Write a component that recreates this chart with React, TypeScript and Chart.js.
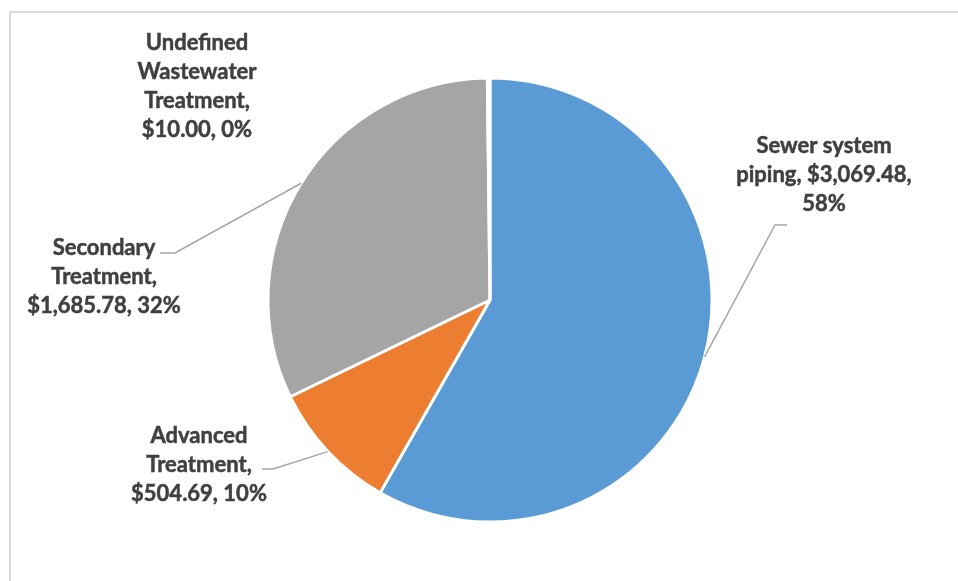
import React, { useEffect, useRef } from "react";
import { Chart, registerables } from "chart.js";

Chart.register(...registerables);

const categories = [
  "Sewer system piping",
  "Advanced Treatment",
  "Secondary Treatment",
  "Undefined Wastewater Treatment",
];
const values = [3069.48, 504.69, 1685.78, 10.0];
const colors = ["#5B9BD5", "#ED7D31", "#A5A5A5", "#FFC000"];
const labelLines = [
  ["Sewer system", "piping, $3,069.48,", "58%"],
  ["Advanced", "Treatment,", "$504.69, 10%"],
  ["Secondary", "Treatment,", "$1,685.78, 32%"],
  ["Undefined", "Wastewater", "Treatment,", "$10.00, 0%"],
];

// layout (pixels): label block centre, leader elbow and leader end
const labelCenters = [
  [824, 175],
  [199, 465],
  [104, 277],
  [197, 86],
];
const leaderElbows: (number[] | null)[] = [[775, 225], [273, 469], [175, 253], null];
const leaderEnds: (number[] | null)[] = [[787, 225], [262, 469], [160, 253], null];

const FONT = "bold 22px Lato";
const LINE_H = 29;

const labelPlugin = {
  id: "excelLabels",
  beforeDraw(chart: any) {
    const ctx = chart.ctx;
    ctx.save();
    ctx.fillStyle = "#ffffff";
    ctx.fillRect(0, 0, chart.width, chart.height);
    ctx.strokeStyle = "#D9D9D9";
    ctx.lineWidth = 2;
    ctx.strokeRect(10, 12, chart.width + 50, chart.height + 50);
    ctx.restore();
  },
  afterDraw(chart: any) {
    const ctx = chart.ctx;
    const meta = chart.getDatasetMeta(0);
    ctx.save();
    meta.data.forEach((arc: any, i: number) => {
      const elbow = leaderElbows[i];
      const end = leaderEnds[i];
      if (elbow && end) {
        const mid = (arc.startAngle + arc.endAngle) / 2;
        const sx = arc.x + Math.cos(mid) * arc.outerRadius;
        const sy = arc.y + Math.sin(mid) * arc.outerRadius;
        ctx.strokeStyle = "#A6A6A6";
        ctx.lineWidth = 1.5;
        ctx.beginPath();
        ctx.moveTo(sx, sy);
        ctx.lineTo(elbow[0], elbow[1]);
        ctx.lineTo(end[0], end[1]);
        ctx.stroke();
      }
      const lines = labelLines[i];
      const [cx, cy] = labelCenters[i];
      ctx.font = FONT;
      ctx.fillStyle = "#404040";
      ctx.strokeStyle = "#404040";
      ctx.lineWidth = 0.5;
      ctx.textAlign = "center";
      ctx.textBaseline = "middle";
      const top = cy - ((lines.length - 1) * LINE_H) / 2;
      lines.forEach((t, k) => {
        ctx.fillText(t, cx, top + k * LINE_H);
        ctx.strokeText(t, cx, top + k * LINE_H);
      });
    });
    ctx.restore();
  },
};

export default function App() {
  const ref = useRef<HTMLCanvasElement | null>(null);
  useEffect(() => {
    if (!ref.current) return;
    const chart = new Chart(ref.current, {
      type: "pie",
      data: {
        labels: categories,
        datasets: [
          {
            data: values,
            backgroundColor: colors,
            borderColor: "#ffffff",
            borderWidth: 3,
          },
        ],
      },
      options: {
        responsive: false,
        animation: false,
        layout: { padding: { left: 266.5, right: 244.5, top: 76.5, bottom: 57.5 } },
        plugins: {
          legend: { display: false },
          tooltip: { enabled: false },
        },
      },
      plugins: [labelPlugin],
    });
    return () => chart.destroy();
  }, []);
  return (
    <div style={{ position: "absolute", left: 0, top: 0, width: 958, height: 581 }}>
      <canvas ref={ref} width={958} height={581} />
    </div>
  );
}
